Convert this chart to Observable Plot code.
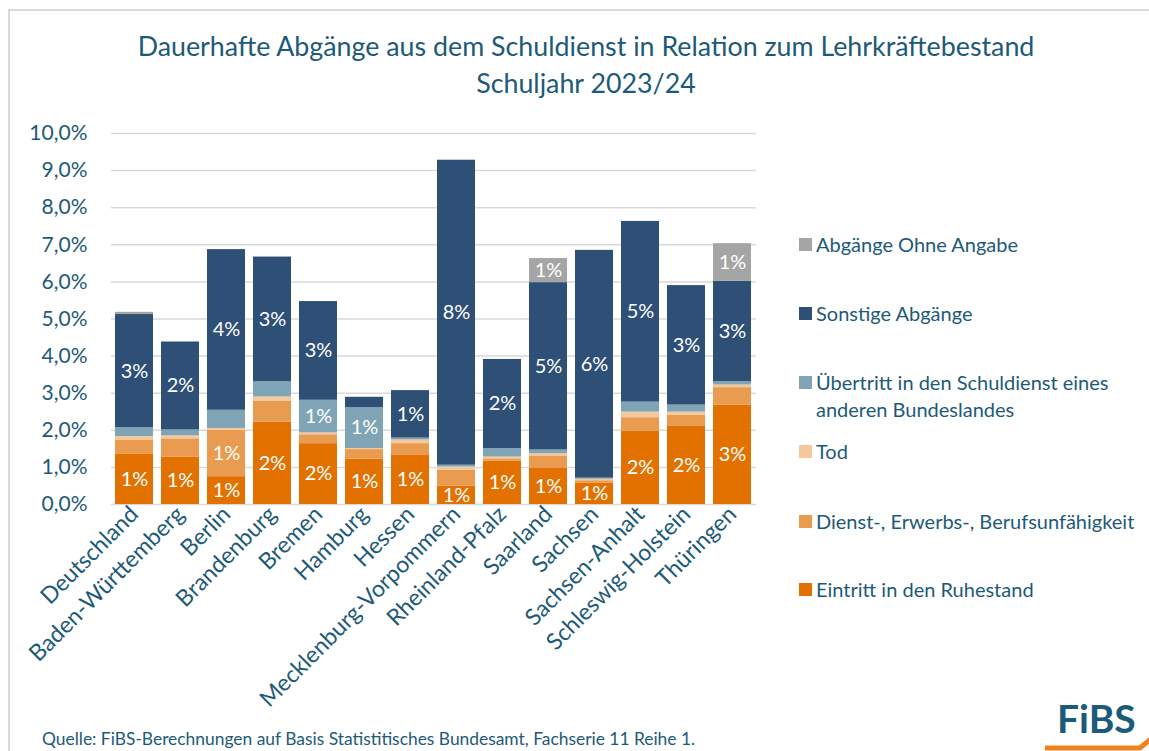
<!DOCTYPE html>
<html><head><meta charset="utf-8">
<script src="https://cdn.jsdelivr.net/npm/d3@7"></script>
<script src="https://cdn.jsdelivr.net/npm/@observablehq/plot@0.6"></script>
<style>
body{margin:0;background:#fff;font-family:Lato,sans-serif;}
#wrap{position:relative;width:1149px;height:751px;overflow:hidden;background:#fff;}
#frame{position:absolute;left:8px;top:9px;width:1200px;height:800px;border-top:2px solid #d9d9d9;border-left:2px solid #d9d9d9;}
#title{position:absolute;left:0;width:1172px;top:28px;text-align:center;color:#1d5a78;font-size:26.8px;line-height:37px;}
#chart{position:absolute;left:0;top:110px;}
#legend{position:absolute;left:799px;top:0;color:#1d5a78;font-size:20px;}
.li{position:absolute;left:0;white-space:nowrap;line-height:27px;}
.sw{position:absolute;left:0;top:7px;width:13px;height:13px;}
.lt{position:absolute;left:17px;top:0;}
#caption{position:absolute;left:42px;top:729px;color:#1d5a78;font-size:17.4px;line-height:20px;white-space:nowrap;}
#logo{position:absolute;left:1040px;top:695px;}
</style></head>
<body><div id="wrap"><div id="frame"></div>
<div id="title">Dauerhafte Abgänge aus dem Schuldienst in Relation zum Lehrkräftebestand<br>Schuljahr 2023/24</div>
<div id="chart"></div>
<div id="legend"></div>
<div id="caption">Quelle: FiBS-Berechnungen auf Basis Statistitisches Bundesamt, Fachserie 11 Reihe 1.</div>
<svg id="logo" width="109" height="56">
<text x="17" y="38" font-family="Lato" font-weight="700" font-size="39" fill="#1b5a78">FiBS</text>
<path d="M5 53 L100 53 L112 43" stroke="#ef8220" stroke-width="5" fill="none"/>
</svg>
</div>
<script>
const states = ["Deutschland","Baden-Württemberg","Berlin","Brandenburg","Bremen","Hamburg","Hessen","Mecklenburg-Vorpommern","Rheinland-Pfalz","Saarland","Sachsen","Sachsen-Anhalt","Schleswig-Holstein","Thüringen"];
const series = ["Eintritt in den Ruhestand","Dienst-, Erwerbs-, Berufsunfähigkeit","Tod","Übertritt in den Schuldienst eines anderen Bundeslandes","Sonstige Abgänge","Abgänge Ohne Angabe"];
const colors = ["#e37100","#e99b50","#f5c89b","#7fa4b5","#2e4f76","#a5a5a5"];
// values in percent, bottom-to-top
const ruhestand  = [1.35,1.28,0.75,2.22,1.64,1.22,1.32,0.50,1.17,0.97,0.58,1.98,2.12,2.68];
const dienst     = [0.39,0.49,1.25,0.57,0.24,0.26,0.32,0.42,0.06,0.34,0.06,0.36,0.29,0.47];
const tod        = [0.09,0.08,0.05,0.11,0.05,0.03,0.10,0.09,0.05,0.06,0.04,0.15,0.08,0.07];
const uebertritt = [0.24,0.16,0.49,0.41,0.88,1.10,0.05,0.05,0.23,0.10,0.03,0.27,0.19,0.09];
const sonstige   = [3.05,2.37,4.33,3.36,2.66,0.28,1.28,8.22,2.40,4.51,6.14,4.87,3.22,2.71];
const ohneAngabe = [0.06,0,0,0,0,0,0,0,0,0.65,0,0,0,1.01];
const yTicks = [0,1,2,3,4,5,6,7,8,9,10];
const unlabeled = [["Brandenburg","Dienst-, Erwerbs-, Berufsunfähigkeit"]];
const legendLabels = ["Eintritt in den Ruhestand","Dienst-, Erwerbs-, Berufsunfähigkeit","Tod","Übertritt in den Schuldienst eines<br>anderen Bundeslandes","Sonstige Abgänge","Abgänge Ohne Angabe"];

const valueArrays = [ruhestand, dienst, tod, uebertritt, sonstige, ohneAngabe];
const data = [];
series.forEach((s, i) => states.forEach((st, j) => {
  const v = valueArrays[i][j];
  const hidden = unlabeled.some(([a, b]) => a === st && b === s);
  data.push({state: st, series: s, value: v, label: (v >= 0.5 && !hidden) ? Math.round(v) + "%" : ""});
}));

const chart = Plot.plot({
  width: 770, height: 604,
  marginLeft: 111, marginRight: 14, marginTop: 23, marginBottom: 210,
  style: {fontFamily: "Lato", fontSize: "21px", color: "#1d5a78", background: "transparent", overflow: "visible"},
  x: {domain: states, paddingInner: 0.17, paddingOuter: 0.09, label: null, tickSize: 0, tickRotate: -45, tickPadding: 6},
  y: {domain: [0, 10], ticks: yTicks, tickFormat: d => d.toFixed(1).replace(".", ",") + "%", label: null, tickSize: 0, tickPadding: 24},
  color: {domain: series, range: colors},
  marks: [
    Plot.gridY(yTicks, {stroke: "#d9d9d9", strokeOpacity: 1, strokeWidth: 1.5}),
    Plot.axisX({tickSize: 0, tickRotate: -45, tickPadding: 6, fontSize: 23, label: null}),
    Plot.barY(data, {x: "state", y: "value", z: "series", fill: "series"}),
    Plot.text(data, Plot.stackY({x: "state", y: "value", z: "series", text: "label", fill: "white", fontSize: 20}))
  ]
});
document.getElementById("chart").appendChild(chart);

const legendY = {"Abgänge Ohne Angabe": 231, "Sonstige Abgänge": 300, "Übertritt in den Schuldienst eines anderen Bundeslandes": 369, "Tod": 438, "Dienst-, Erwerbs-, Berufsunfähigkeit": 508, "Eintritt in den Ruhestand": 576};
const lg = document.getElementById("legend");
series.slice().reverse().forEach(s => {
  const i = series.indexOf(s);
  const d = document.createElement("div");
  d.className = "li";
  d.style.top = legendY[s] + "px";
  d.innerHTML = `<div class="sw" style="background:${colors[i]}"></div><div class="lt">${legendLabels[i]}</div>`;
  lg.appendChild(d);
});
</script>
</body></html>
